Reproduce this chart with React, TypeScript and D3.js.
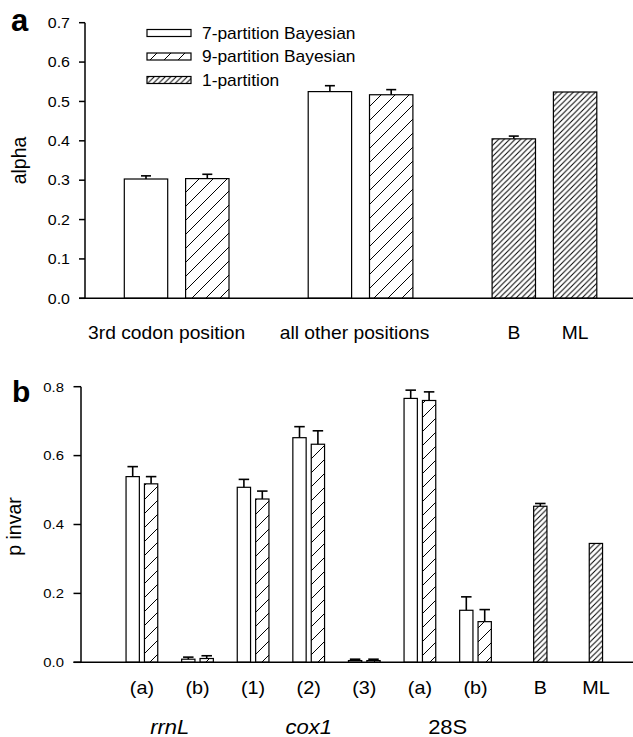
import React from "react";
import * as d3 from "d3";

// ---------- data ----------
const seriesLabels = ["7-partition Bayesian", "9-partition Bayesian", "1-partition"];

// panel a (alpha)
const alphaGroups = ["3rd codon position", "all other positions"];
const alpha7 = [0.303, 0.525];
const alpha7Err = [0.008, 0.015];
const alpha9 = [0.304, 0.517];
const alpha9Err = [0.011, 0.013];
const alphaOneLabels = ["B", "ML"];
const alpha1 = [0.405, 0.524];
const alpha1Err = [0.007, 0];
const alphaTicks = [0, 0.1, 0.2, 0.3, 0.4, 0.5, 0.6, 0.7];

// panel b (p invar)
const pinvCats = ["(a)", "(b)", "(1)", "(2)", "(3)", "(a)", "(b)"];
const pinv7 = [0.539, 0.009, 0.508, 0.652, 0.005, 0.766, 0.151];
const pinv7Err = [0.029, 0.006, 0.023, 0.032, 0.004, 0.024, 0.039];
const pinv9 = [0.518, 0.011, 0.474, 0.633, 0.005, 0.76, 0.118];
const pinv9Err = [0.021, 0.008, 0.023, 0.039, 0.004, 0.025, 0.035];
const pinvOneLabels = ["B", "ML"];
const pinv1 = [0.453, 0.345];
const pinv1Err = [0.008, 0];
const genes = ["rrnL", "cox1", "28S"];
const geneItalic = [true, true, false];
const geneFirst = [0, 2, 5];
const geneLast = [1, 4, 6];
const pinvTicks = [0, 0.2, 0.4, 0.6, 0.8];

const FONT = "'Liberation Sans', Arial, Helvetica, sans-serif";
const SX = 1.1;

type TP = {
  x: number;
  y: number;
  size: number;
  anchor?: "start" | "middle" | "end";
  italic?: boolean;
  children: React.ReactNode;
};
const T = ({ x, y, size, anchor = "middle", italic = false, children }: TP) => (
  <text
    transform={`translate(${x},${y}) scale(${SX},1)`}
    fontSize={size}
    textAnchor={anchor}
    fontStyle={italic ? "italic" : "normal"}
    fontFamily={FONT}
    fill="#000"
  >
    {children}
  </text>
);

const fillFor = (s: number) => (s === 0 ? "#fff" : s === 1 ? "url(#h9)" : "url(#h1)");

export default function App() {
  // ---- panel a scales ----
  const ya = d3.scaleLinear().domain([0, 0.7]).range([298.3, 22.7]);
  const xa = d3.scaleLinear().domain([0, 7]).range([146, 575.1]);
  const bwA = 43.4;
  const axA = 85;

  type Bar = { cx: number; v: number; e: number; s: number };
  const barsA: Bar[] = [];
  alphaGroups.forEach((_, i) => {
    barsA.push({ cx: xa(3 * i), v: alpha7[i], e: alpha7Err[i], s: 0 });
    barsA.push({ cx: xa(3 * i + 1), v: alpha9[i], e: alpha9Err[i], s: 1 });
  });
  alphaOneLabels.forEach((_, i) => {
    barsA.push({ cx: xa(6 + i), v: alpha1[i], e: alpha1Err[i], s: 2 });
  });

  // ---- panel b scales ----
  const yb = d3.scaleLinear().domain([0, 0.8]).range([662.3, 386.7]);
  const xb = d3.scaleLinear().domain([0, 8]).range([141.9, 586.7]);
  const bwB = 13.3;
  const off = 9.2;
  const axB = 81;

  const barsB: Bar[] = [];
  pinvCats.forEach((_, i) => {
    barsB.push({ cx: xb(i) - off, v: pinv7[i], e: pinv7Err[i], s: 0 });
    barsB.push({ cx: xb(i) + off, v: pinv9[i], e: pinv9Err[i], s: 1 });
  });
  pinvOneLabels.forEach((_, i) => {
    barsB.push({ cx: xb(7 + i) + off, v: pinv1[i], e: pinv1Err[i], s: 2 });
  });

  const drawBars = (bars: Bar[], y: d3.ScaleLinear<number, number>, bw: number, cap: number, key: string) =>
    bars.map((b, i) => (
      <g key={key + i}>
        <rect
          x={b.cx - bw / 2}
          y={y(b.v)}
          width={bw}
          height={y(0) - y(b.v)}
          fill={fillFor(b.s)}
          stroke="#000"
          strokeWidth={1.2}
        />
        {b.e > 0 && (
          <g stroke="#000" strokeWidth={1.6}>
            <line x1={b.cx} x2={b.cx} y1={y(b.v)} y2={y(b.v + b.e)} />
            <line x1={b.cx - cap / 2} x2={b.cx + cap / 2} y1={y(b.v + b.e)} y2={y(b.v + b.e)} />
          </g>
        )}
      </g>
    ));

  const legendRows = [33, 56.5, 80];
  const groupLabelShift = [-10, -6];

  return (
    <svg
      width={633}
      height={737}
      style={{ position: "absolute", left: 0, top: 0, background: "#fff" }}
    >
      <defs>
        <pattern id="h9" patternUnits="userSpaceOnUse" width={14} height={14}>
          <rect width={14} height={14} fill="#fff" />
          <path d="M-1,1 l2,-2 M0,14 l14,-14 M13,15 l2,-2" stroke="#000" strokeWidth={1} />
        </pattern>
        <pattern id="h1" patternUnits="userSpaceOnUse" width={5.5} height={5.5}>
          <rect width={5.5} height={5.5} fill="#fff" />
          <path d="M-1,1 l2,-2 M0,5.5 l5.5,-5.5 M4.5,6.5 l2,-2" stroke="#000" strokeWidth={1} />
        </pattern>
      </defs>

      {/* ================= panel a ================= */}
      <text x={11} y={31} fontSize={31} fontWeight="bold" fontFamily={FONT}>a</text>

      {drawBars(barsA, ya, bwA, 10, "a")}

      {/* axes */}
      <line x1={axA} x2={axA} y1={ya(0.7)} y2={ya(0)} stroke="#000" strokeWidth={1.5} />
      <line x1={axA - 6} x2={633} y1={ya(0)} y2={ya(0)} stroke="#000" strokeWidth={1.5} />
      {alphaTicks.map((t) => (
        <g key={"ta" + t}>
          <line x1={axA - 6} x2={axA} y1={ya(t)} y2={ya(t)} stroke="#000" strokeWidth={1.5} />
          <T x={70} y={ya(t) + 5.2} size={14.5} anchor="end">{t.toFixed(1)}</T>
        </g>
      ))}
      <text
        transform={`translate(26,${(ya(0) + ya(0.7)) / 2}) rotate(-90)`}
        fontSize={19.5}
        textAnchor="middle"
        fontFamily={FONT}
      >
        alpha
      </text>

      {/* category labels */}
      {alphaGroups.map((g, i) => (
        <T key={"ga" + i} x={(xa(3 * i) + xa(3 * i + 1)) / 2 + groupLabelShift[i]} y={339} size={17.5}>{g}</T>
      ))}
      {alphaOneLabels.map((g, i) => (
        <T key={"oa" + i} x={xa(6 + i)} y={339} size={17.5}>{g}</T>
      ))}

      {/* legend */}
      {seriesLabels.map((s, i) => (
        <g key={"lg" + i}>
          <rect
            x={147}
            y={legendRows[i] - 3.5}
            width={44}
            height={7}
            fill={fillFor(i)}
            stroke="#000"
            strokeWidth={1.2}
          />
          <T x={202} y={legendRows[i] + 5.5} size={15.8} anchor="start">{s}</T>
        </g>
      ))}

      {/* ================= panel b ================= */}
      <text x={12} y={401.5} fontSize={30} fontWeight="bold" fontFamily={FONT}>b</text>

      {drawBars(barsB, yb, bwB, 10.5, "b")}

      <line x1={axB} x2={axB} y1={yb(0.8)} y2={yb(0)} stroke="#000" strokeWidth={1.5} />
      <line x1={axB - 7.5} x2={633} y1={yb(0)} y2={yb(0)} stroke="#000" strokeWidth={1.5} />
      {pinvTicks.map((t) => (
        <g key={"tb" + t}>
          <line x1={axB - 7.5} x2={axB} y1={yb(t)} y2={yb(t)} stroke="#000" strokeWidth={1.5} />
          <T x={64} y={yb(t) + 4.8} size={13.5} anchor="end">{t.toFixed(1)}</T>
        </g>
      ))}
      <text
        transform={`translate(21,${(yb(0) + yb(0.8)) / 2 + 2}) rotate(-90)`}
        fontSize={19.5}
        textAnchor="middle"
        fontFamily={FONT}
      >
        p invar
      </text>

      {pinvCats.map((c, i) => (
        <T key={"cb" + i} x={xb(i)} y={693.5} size={18}>{c}</T>
      ))}
      {pinvOneLabels.map((c, i) => (
        <T key={"ob" + i} x={xb(7 + i) + off} y={693.5} size={18}>{c}</T>
      ))}
      {genes.map((g, i) => (
        <T key={"gb" + i} x={(xb(geneFirst[i]) + xb(geneLast[i])) / 2} y={734} size={20} italic={geneItalic[i]}>
          {g}
        </T>
      ))}
    </svg>
  );
}
